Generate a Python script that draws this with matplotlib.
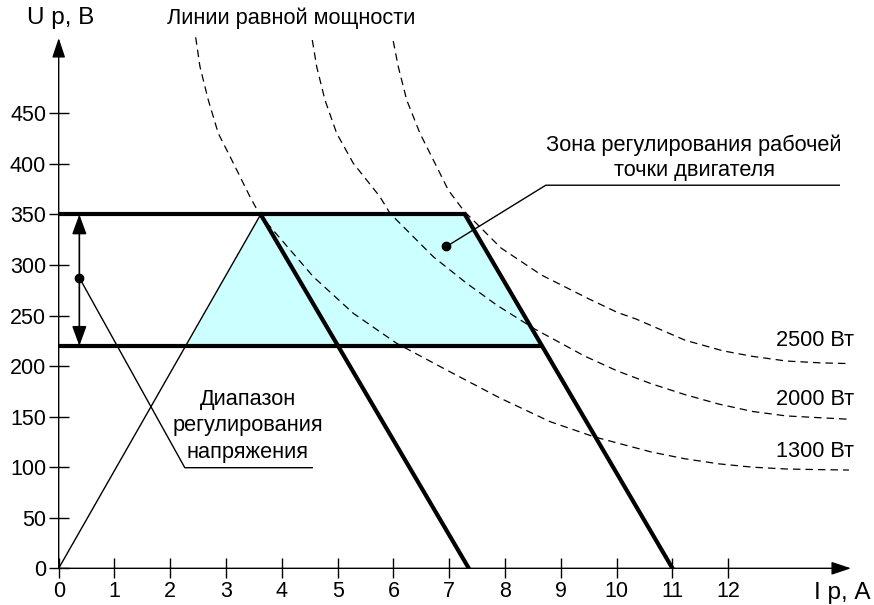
import matplotlib
matplotlib.use("Agg")
import matplotlib.pyplot as plt

plt.rcParams['font.family'] = ['Liberation Sans', 'DejaVu Sans']
plt.rcParams['font.size'] = 15.5

# оси
x_ticks = list(range(0, 13))
y_ticks = list(range(0, 451, 50))
x_max = 14.2
y_max = 524.5

# уровни напряжения
u_low = 220
u_high = 350

# зона регулирования рабочей точки (I, U)
zone_i = [2.30, 3.62, 7.28, 8.64]
zone_u = [220, 350, 350, 220]

# луч из начала координат и две нагрузочные прямые
ray_i = [0, 3.62]
ray_u = [0, 350]
load1_i = [3.62, 7.35]
load1_u = [350, 0]
load2_i = [7.28, 11.0]
load2_u = [350, 0]

# линии равной мощности (точки)
p1300_i = [2.455, 2.532, 2.681, 2.860, 3.129, 3.428, 3.608, 4.563, 5.280,
           6.057, 6.953, 7.909, 8.805, 9.593, 10.622, 11.226, 11.833,
           12.437, 13.043, 13.649, 14.163]
p1300_u = [525.2, 496.1, 463.2, 430.2, 400.9, 367.5, 349.4, 288.4, 252.2,
           222.5, 196.1, 168.4, 145.1, 130.1, 115.0, 108.3, 103.3,
           100.0, 98.2, 97.6, 97.2]
p2000_i = [4.545, 4.624, 4.772, 4.982, 5.280, 5.758, 5.937, 6.713, 7.312,
           7.849, 8.530, 9.253, 9.410, 10.016, 10.622, 11.224, 11.832,
           12.437, 13.043, 14.163]
p2000_u = [522.5, 496.1, 463.2, 430.2, 400.6, 367.5, 351.1, 308.2, 281.9,
           260.4, 236.7, 215.1, 210.3, 195.1, 182.5, 171.8, 162.4,
           155.1, 150.7, 147.4]
p2500_i = [5.996, 6.086, 6.237, 6.475, 6.744, 6.982, 7.263, 7.927, 8.651,
           9.497, 10.016, 10.341, 11.226, 11.905, 12.437, 13.043, 13.649,
           14.163]
p2500_u = [521.5, 496.1, 463.2, 430.2, 400.6, 374.1, 353.4, 316.8, 290.1,
           266.6, 253.0, 246.7, 225.6, 215.1, 209.6, 205.0, 203.2,
           202.5]
power_labels = ['2500 Вт', '2000 Вт', '1300 Вт']
power_label_u = [225, 167, 116]

fig = plt.figure(figsize=(8.74, 6.05), dpi=100)
ax = fig.add_axes([58.7 / 874, (605 - 568.3) / 605,
                   (851 - 58.7) / 874, (568.3 - 38) / 605])
ax.set_xlim(0, x_max)
ax.set_ylim(0, y_max)
for s in ax.spines.values():
    s.set_visible(False)

ax.set_xticks(x_ticks)
ax.set_yticks(y_ticks)
ax.tick_params(direction='inout', length=14, width=1, labelsize=15.5)
ax.tick_params(axis='x', pad=2)
ax.tick_params(axis='y', pad=2)

# стрелки осей
arr = dict(arrowstyle='-|>,head_length=0.6,head_width=0.2', color='black',
           lw=1, mutation_scale=20, shrinkA=0, shrinkB=0)
ax.annotate('', xy=(x_max, 0), xytext=(0, 0), arrowprops=arr, annotation_clip=False)
ax.annotate('', xy=(0, y_max), xytext=(0, 0), arrowprops=arr, annotation_clip=False)

# зона
ax.fill(zone_i, zone_u, color='#ccffff', lw=0, zorder=1)

# линии равной мощности
for ii, uu in [(p1300_i, p1300_u), (p2000_i, p2000_u), (p2500_i, p2500_u)]:
    ax.plot(ii, uu, color='black', lw=0.9, ls=(0, (6, 4)), clip_on=False, zorder=2)

ax.plot(ray_i, ray_u, color='black', lw=1, zorder=3)
ax.plot([0, zone_i[2]], [u_high, u_high], color='black', lw=3, zorder=4,
        solid_capstyle='butt')
ax.plot([0, zone_i[3]], [u_low, u_low], color='black', lw=3, zorder=4,
        solid_capstyle='butt')
ax.plot(load1_i, load1_u, color='black', lw=3, zorder=4)
ax.plot(load2_i, load2_u, color='black', lw=3, zorder=4)

# диапазон напряжения
ax.annotate('', xy=(0.37, u_high), xytext=(0.37, u_low),
            arrowprops=dict(arrowstyle='<|-|>,head_length=0.6,head_width=0.22',
                            color='black', lw=1.2, mutation_scale=20,
                            shrinkA=0, shrinkB=0))
ax.plot([0.37, 2.26, 4.545], [287.4, 99.5, 99.5], color='black', lw=1, zorder=5)
ax.plot(0.37, 287.4, 'o', color='black', ms=6, zorder=6)
ax.text(3.39, 141, 'Диапазон\nрегулирования\nнапряжения', ha='center',
        va='center', fontsize=15.7, linespacing=1.33)

# зона рабочей точки
ax.plot([6.95, 8.73, 13.99], [318.3, 378.9, 378.9], color='black', lw=1, zorder=5)
ax.plot(6.95, 318.3, 'o', color='black', ms=6, zorder=6)
ax.text(11.39, 406, 'Зона регулирования рабочей\nточки двигателя', ha='center',
        va='center', fontsize=15.7, linespacing=1.25)

for lab, u in zip(power_labels, power_label_u):
    ax.text(14.25, u, lab, ha='right', va='center', fontsize=15.7, clip_on=False)

ax.text(4.17, 544, 'Линии равной мощности', ha='center', va='center',
        fontsize=15.7, clip_on=False)
ax.text(0.04, 544, 'U р, В', ha='center', va='center', fontsize=17.5, clip_on=False)
ax.text(14.04, -24, 'I р, А', ha='center', va='center', fontsize=17.5, clip_on=False)

fig.savefig('out.png', dpi=100)
